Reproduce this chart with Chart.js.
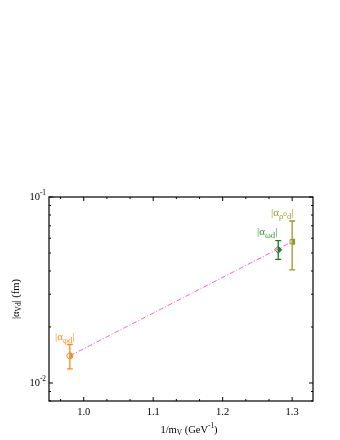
<!DOCTYPE html>
<html>
<head>
<meta charset="utf-8">
<script src="https://cdn.jsdelivr.net/npm/chart.js@4/dist/chart.umd.min.js"></script>
<style>
  html, body { margin: 0; padding: 0; background: #fff; }
  #c { display: block; }
</style>
</head>
<body>
<canvas id="c" width="340" height="440"></canvas>
<script>
// データ (1/m_V, |alpha_Vd|, 誤差)
const mesons = ['phi', 'omega', 'rho'];
const invMass = [0.98, 1.28, 1.30];
const alphaVal = [0.0140, 0.0521, 0.0575];
const errUp = [0.0021, 0.0061, 0.0168];
const errDown = [0.0021, 0.0059, 0.0169];
const colors = ['#f7901e', '#1f7a1f', '#9a9a2c'];
const markers = ['circle', 'rectRot', 'rect'];

// フィット直線
const fitX = [0.98, 1.30];
const fitY = [0.0140, 0.0575];

// 軸
const xMin = 0.95, xMax = 1.33;
const yMin = 0.008, yMax = 0.1;
const xMajor = [1.0, 1.1, 1.2, 1.3];
const xMinor = [0.9667, 1.0333, 1.0667, 1.1333, 1.1667, 1.2333, 1.2667, 1.3333];
const yMajor = [0.01, 0.1];
const yMajorExp = ['-2', '-1'];
const yMinor = [0.008, 0.009, 0.02, 0.03, 0.04, 0.05, 0.06, 0.07, 0.08, 0.09];

const SERIF = '"Liberation Serif", "DejaVu Serif", serif';

// 上付き・下付き文字を描く
function drawRich(ctx, parts, x, y, size, align, ratio) {
  const r = ratio || 0.7;
  const w = parts.map(p => {
    ctx.font = (p.s ? size * r : size) + 'px ' + SERIF;
    return ctx.measureText(p.t).width;
  });
  const total = w.reduce((a, b) => a + b, 0);
  let cx = align === 'center' ? x - total / 2 : (align === 'right' ? x - total : x);
  parts.forEach((p, i) => {
    ctx.font = (p.s ? size * r : size) + 'px ' + SERIF;
    let dy = 0;
    if (p.s === 'sub') dy = size * 0.3;
    if (p.s === 'sup') dy = -size * 0.38;
    ctx.fillText(p.t, cx, y + dy);
    cx += w[i];
  });
}

const framePlugin = {
  id: 'frame',
  afterDatasetsDraw(chart) {
    const ctx = chart.ctx;
    const xs = chart.scales.x, ys = chart.scales.y;
    const a = chart.chartArea;
    ctx.save();

    // エラーバー
    ctx.lineWidth = 1.3;
    mesons.forEach((m, i) => {
      const px = xs.getPixelForValue(invMass[i]);
      const top = ys.getPixelForValue(alphaVal[i] + errUp[i]);
      const bot = ys.getPixelForValue(alphaVal[i] - errDown[i]);
      ctx.strokeStyle = colors[i];
      ctx.beginPath();
      ctx.moveTo(px, top); ctx.lineTo(px, bot);
      ctx.moveTo(px - 3, top); ctx.lineTo(px + 3, top);
      ctx.moveTo(px - 3, bot); ctx.lineTo(px + 3, bot);
      ctx.stroke();

      // マーカー右半分の塗り
      const py = ys.getPixelForValue(alphaVal[i]);
      ctx.fillStyle = colors[i];
      ctx.beginPath();
      if (markers[i] === 'circle') {
        ctx.arc(px, py, 3, -Math.PI / 2, Math.PI / 2);
      } else if (markers[i] === 'rectRot') {
        ctx.moveTo(px, py - 3.5); ctx.lineTo(px + 3.5, py); ctx.lineTo(px, py + 3.5);
      } else {
        ctx.rect(px, py - 3, 3, 6);
      }
      ctx.closePath();
      ctx.fill();
    });

    // 枠
    ctx.strokeStyle = '#000';
    ctx.lineWidth = 1.2;
    ctx.strokeRect(a.left, a.top, a.right - a.left, a.bottom - a.top);

    // 目盛り (内向き)
    ctx.lineWidth = 1;
    ctx.beginPath();
    xMajor.forEach(v => {
      const p = xs.getPixelForValue(v);
      ctx.moveTo(p, a.bottom); ctx.lineTo(p, a.bottom - 4);
      ctx.moveTo(p, a.top); ctx.lineTo(p, a.top + 4);
    });
    xMinor.forEach(v => {
      if (v <= xMin || v >= xMax) return;
      const p = xs.getPixelForValue(v);
      ctx.moveTo(p, a.bottom); ctx.lineTo(p, a.bottom - 2);
      ctx.moveTo(p, a.top); ctx.lineTo(p, a.top + 2);
    });
    yMajor.forEach(v => {
      const p = ys.getPixelForValue(v);
      ctx.moveTo(a.left, p); ctx.lineTo(a.left + 4, p);
      ctx.moveTo(a.right, p); ctx.lineTo(a.right - 4, p);
    });
    yMinor.forEach(v => {
      const p = ys.getPixelForValue(v);
      ctx.moveTo(a.left, p); ctx.lineTo(a.left + 2, p);
      ctx.moveTo(a.right, p); ctx.lineTo(a.right - 2, p);
    });
    ctx.stroke();

    // 目盛りラベル
    ctx.fillStyle = '#000';
    ctx.textBaseline = 'middle';
    xMajor.forEach(v => {
      drawRich(ctx, [{ t: v.toFixed(1) }], xs.getPixelForValue(v), a.bottom + 11, 10.5, 'center');
    });
    yMajor.forEach((v, i) => {
      drawRich(ctx, [{ t: '10' }, { t: yMajorExp[i], s: 'sup' }], a.left - 3, ys.getPixelForValue(v), 10.5, 'right');
    });

    // 軸タイトル
    drawRich(ctx, [{ t: '1/m' }, { t: 'V', s: 'sub' }, { t: ' (GeV' }, { t: '-1', s: 'sup' }, { t: ')' }],
      (a.left + a.right) / 2 + 8, 430, 10.5, 'center');
    ctx.save();
    ctx.translate(16, (a.top + a.bottom) / 2);
    ctx.rotate(-Math.PI / 2);
    drawRich(ctx, [{ t: '|α' }, { t: 'Vd', s: 'sub' }, { t: '| (fm)' }], 0, 0, 10.5, 'center');
    ctx.restore();

    // 各点のラベル
    ctx.fillStyle = colors[0];
    drawRich(ctx, [{ t: '|α' }, { t: 'φd', s: 'sub' }, { t: '|' }], 55, 337, 11, 'left', 0.8);
    ctx.fillStyle = '#3a923a';
    drawRich(ctx, [{ t: '|α' }, { t: 'ωd', s: 'sub' }, { t: '|' }], 257, 232, 11, 'left', 0.8);
    ctx.fillStyle = colors[2];
    drawRich(ctx, [{ t: '|α' }, { t: 'ρ⁰d', s: 'sub' }, { t: '|' }], 271, 213, 11, 'left', 0.8);

    ctx.restore();
  }
};

const datasets = [{
  data: fitX.map((x, i) => ({ x: x, y: fitY[i] })),
  showLine: true,
  borderColor: '#ff5fcf',
  borderWidth: 1,
  borderDash: [5, 2, 1, 2],
  pointRadius: 0
}];
mesons.forEach((m, i) => {
  datasets.push({
    label: m,
    data: [{ x: invMass[i], y: alphaVal[i] }],
    pointStyle: markers[i],
    pointRadius: markers[i] === 'rectRot' ? 3.5 : 3,
    pointBorderWidth: 1,
    borderColor: colors[i],
    backgroundColor: '#fff'
  });
});

new Chart(document.getElementById('c'), {
  type: 'scatter',
  data: { datasets: datasets },
  options: {
    responsive: false,
    animation: false,
    layout: { padding: { left: 49, top: 197, right: 27, bottom: 39 } },
    plugins: { legend: { display: false }, tooltip: { enabled: false } },
    scales: {
      x: { type: 'linear', min: xMin, max: xMax, display: false },
      y: { type: 'logarithmic', min: yMin, max: yMax, display: false }
    }
  },
  plugins: [framePlugin]
});
</script>
</body>
</html>
